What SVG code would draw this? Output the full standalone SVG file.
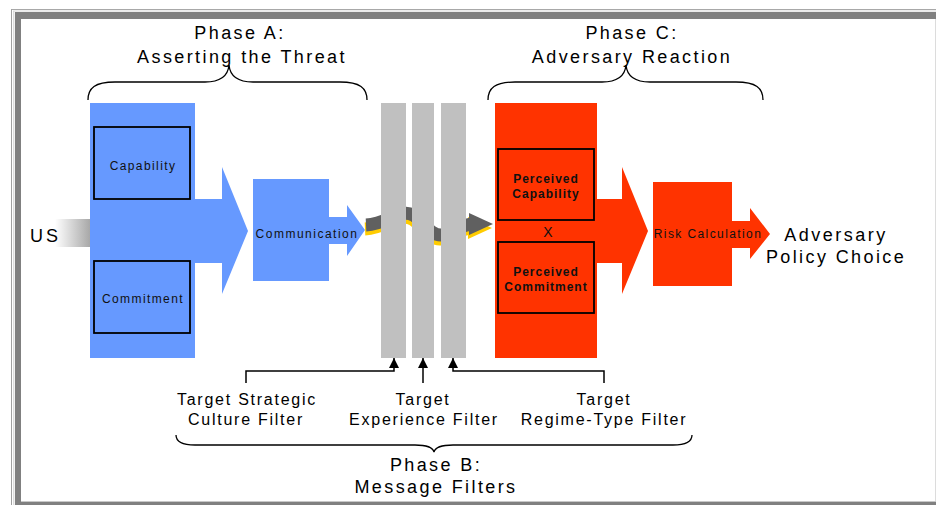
<svg xmlns="http://www.w3.org/2000/svg" width="936" height="505" viewBox="0 0 936 505">
<defs>
<style>
text{font-family:"Liberation Sans",Arial,sans-serif;fill:#111;}
.big{font-size:18px;letter-spacing:2.4px;text-anchor:middle;fill:#000;}
.lbl{font-size:16px;letter-spacing:1.75px;text-anchor:middle;fill:#000;}
.box{font-size:12px;letter-spacing:1.4px;text-anchor:middle;}
.boxb{font-size:12px;font-weight:bold;letter-spacing:1px;text-anchor:middle;}
.blue{fill:#6699ff;}
.red{fill:#ff3300;}
.bar{fill:#c0c0c0;}
.inner{fill:none;stroke:#000;stroke-width:1.8;}
.brace{fill:none;stroke:#000;stroke-width:1.3;}
.conn{fill:none;stroke:#000;stroke-width:1.5;}
</style>
<linearGradient id="usg" x1="0" y1="0" x2="1" y2="0">
<stop offset="0" stop-color="#ffffff"/>
<stop offset="1" stop-color="#a8a8a8"/>
</linearGradient>
<marker id="ah" markerUnits="userSpaceOnUse" viewBox="0 0 10 10" refX="10" refY="5" markerWidth="10" markerHeight="10" orient="auto">
<path d="M0,0 L10,5 L0,10 z" fill="#000"/>
</marker>
</defs>
<rect width="936" height="505" fill="#fff"/>
<g id="frame">
<line x1="11" y1="9.5" x2="936" y2="9.5" stroke="#a8a8a8"/>
<line x1="13" y1="11" x2="936" y2="11" stroke="#d8d8d8"/>
<rect x="15" y="12" width="921" height="7" fill="#808080"/>
<line x1="11.5" y1="9" x2="11.5" y2="505" stroke="#a0a0a0"/>
<line x1="13.8" y1="11" x2="13.8" y2="505" stroke="#cfcfcf"/>
<rect x="15" y="12" width="6" height="493" fill="#808080"/>
<line x1="21" y1="501.5" x2="936" y2="501.5" stroke="#c8c8c8"/>
<rect x="15" y="502" width="921" height="3" fill="#808080"/>
<line x1="935.5" y1="19" x2="935.5" y2="501" stroke="#dcdcdc"/>
</g>
<g id="phaseA-label">
<text class="big" x="240" y="39">Phase A:</text>
<text class="big" x="242" y="63">Asserting the Threat</text>
<path class="brace" d="M88,100 C88,88 95,82 115,82 L205,82 C220,82 228,76 229,65 C230,76 238,82 253,82 L340,82 C360,82 367,88 367,100"/>
</g>
<g id="phaseC-label">
<text class="big" x="632" y="39">Phase C:</text>
<text class="big" x="632" y="63">Adversary Reaction</text>
<path class="brace" d="M488,100 C488,88 495,82 515,82 L602,82 C617,82 625,76 626,65 C627,76 635,82 650,82 L736,82 C756,82 763,88 763,100"/>
</g>
<g id="us">
<rect x="55" y="219" width="35" height="28" fill="url(#usg)"/>
<text x="30" y="242" style="font-size:18px;letter-spacing:3px;fill:#000">US</text>
</g>
<g id="threat">
<rect class="blue" x="90" y="103" width="105" height="255"/>
<polygon class="blue" points="195,199 222,199 222,167 248,231 222,294 222,263 195,263"/>
</g>
<g id="capability">
<rect class="inner" x="94" y="127" width="96" height="72"/>
<text class="box" x="143" y="170">Capability</text>
</g>
<g id="commitment">
<rect class="inner" x="94" y="261" width="96" height="72"/>
<text class="box" x="143" y="303">Commitment</text>
</g>
<g id="communication">
<rect class="blue" x="253" y="179" width="76" height="102"/>
<polygon class="blue" points="329,217 347,217 347,205 365,230 347,256 347,244 329,244"/>
<text class="box" x="307" y="238" style="letter-spacing:1.5px">Communication</text>
</g>
<g id="message">
<g transform="translate(-1,4)" fill="#ffcc00" stroke="#ffcc00">
<path d="M366,225 C388,224 400,208 413,215 C425,222 430,236 442,235 C456,234 458,225 472,224" fill="none" stroke-width="13"/>
<polygon points="469,213 493,224 469,235" stroke="none"/>
</g>
<path d="M366,225 C388,224 400,208 413,215 C425,222 430,236 442,235 C456,234 458,225 472,224" fill="none" stroke="#606060" stroke-width="13"/>
<polygon points="469,213 493,224 469,235" fill="#606060"/>
</g>
<g id="filter-strategic"><rect class="bar" x="381" y="103" width="25" height="255"/></g>
<g id="filter-experience"><rect class="bar" x="412" y="103" width="22" height="255"/></g>
<g id="filter-regime"><rect class="bar" x="441" y="103" width="25" height="255"/></g>
<g id="reaction">
<rect class="red" x="495" y="103" width="102" height="255"/>
<polygon class="red" points="597,199 622,199 622,167 648,231 622,294 622,263 597,263"/>
<text x="548" y="237" style="font-size:14px;text-anchor:middle">X</text>
</g>
<g id="perceived-capability">
<rect class="inner" x="498" y="149" width="96" height="71"/>
<text class="boxb" x="546" y="183">Perceived</text>
<text class="boxb" x="546" y="198">Capability</text>
</g>
<g id="perceived-commitment">
<rect class="inner" x="498" y="242" width="96" height="71"/>
<text class="boxb" x="546" y="276">Perceived</text>
<text class="boxb" x="546" y="291">Commitment</text>
</g>
<g id="risk">
<rect class="red" x="653" y="182" width="79" height="104"/>
<polygon class="red" points="732,221 750,221 750,208 770,234 750,259 750,248 732,248"/>
<text class="box" x="708" y="238">Risk Calculation</text>
</g>
<g id="choice">
<text class="big" x="836" y="241" style="letter-spacing:2.5px">Adversary</text>
<text class="big" x="836" y="263">Policy Choice</text>
</g>
<g id="connectors">
<path class="conn" d="M246,383 V371 H394 V358" marker-end="url(#ah)"/>
<path class="conn" d="M423,383 V358" marker-end="url(#ah)"/>
<path class="conn" d="M604,383 V371 H453 V358" marker-end="url(#ah)"/>
</g>
<g id="filter-labels">
<text class="lbl" x="247" y="405">Target Strategic</text>
<text class="lbl" x="246" y="425">Culture Filter</text>
<text class="lbl" x="423" y="405">Target</text>
<text class="lbl" x="424" y="425">Experience Filter</text>
<text class="lbl" x="604" y="405">Target</text>
<text class="lbl" x="604" y="425">Regime-Type Filter</text>
</g>
<g id="phaseB-label">
<path class="brace" d="M176,435 C176,441 181,445 195,445 L415,445 C428,445 433,448 434,452 C435,448 440,445 453,445 L673,445 C687,445 692,441 692,435"/>
<text class="big" x="436" y="471">Phase B:</text>
<text class="big" x="436" y="493">Message Filters</text>
</g>
</svg>
